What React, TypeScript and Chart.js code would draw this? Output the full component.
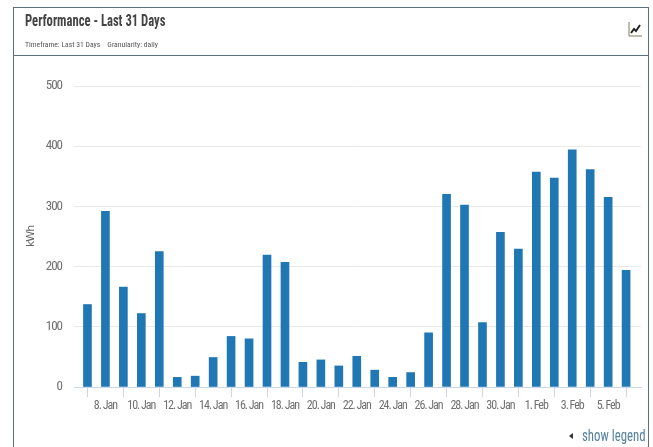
import React, { useEffect, useRef } from "react";
import { Chart, registerables } from "chart.js";

Chart.register(...registerables);

const dayIndex: number[] = Array.from({ length: 31 }, (_, i) => i);
const energyValues = [137, 292, 166, 122, 225, 16, 18, 49, 84, 80, 219, 207, 41, 45, 35, 51, 28, 16, 24, 90, 320, 302, 107, 257, 229, 357, 347, 394, 361, 315, 194];
const tickPositions = [1, 3, 5, 7, 9, 11, 13, 15, 17, 19, 21, 23, 25, 27, 29];
const tickLabels = ["8. Jan", "10. Jan", "12. Jan", "14. Jan", "16. Jan", "18. Jan", "20. Jan", "22. Jan", "24. Jan", "26. Jan", "28. Jan", "30. Jan", "1. Feb", "3. Feb", "5. Feb"];
const yTicks = [0, 100, 200, 300, 400, 500];

const FONT = "Roboto, sans-serif";
const CONDENSED = '"Roboto Condensed", Roboto, sans-serif';

const tightText = {
  id: "tightText",
  beforeDraw(chart: any) {
    chart.ctx.letterSpacing = "-1px";
  },
};

export default function App() {
  const ref = useRef<HTMLCanvasElement>(null);
  useEffect(() => {
    document.body.style.margin = "0";
    document.body.style.background = "#fff";
    const chart = new Chart(ref.current!, {
      type: "bar",
      plugins: [tightText],
      data: {
        datasets: [
          {
            label: "kWh",
            data: dayIndex.map((d, i) => ({ x: d, y: energyValues[i] })),
            backgroundColor: "#1f77b4",
            barThickness: 8,
          },
        ],
      },
      options: {
        animation: false,
        responsive: false,
        layout: { padding: { top: 86, right: 12, left: 0, bottom: 0 } },
        plugins: { legend: { display: false }, tooltip: { enabled: false } },
        scales: {
          x: {
            type: "linear",
            offset: false,
            min: -0.75,
            max: 30.83,
            afterBuildTicks: (axis: any) => {
              axis.ticks = tickPositions.map((value) => ({ value }));
            },
            afterFit: (axis: any) => {
              axis.height = 60;
            },
            ticks: {
              autoSkip: false,
              maxRotation: 0,
              minRotation: 0,
              padding: 2,
              color: "#707070",
              font: { family: CONDENSED, size: 12 },
              callback: (v: any) => tickLabels[tickPositions.indexOf(Number(v))] ?? "",
            },
            grid: { drawOnChartArea: false, drawTicks: true, tickLength: 10, tickColor: "#ccd6eb" },
            border: { display: true, color: "#ccd6eb" },
          },
          y: {
            type: "linear",
            min: 0,
            max: 500,
            afterBuildTicks: (axis: any) => {
              axis.ticks = yTicks.map((value) => ({ value }));
            },
            afterFit: (axis: any) => {
              axis.width = 74;
            },
            ticks: {
              padding: 12,
              color: "#707070",
              font: { family: CONDENSED, size: 13 },
            },
            grid: { color: "#e9e9e9", drawTicks: false, tickLength: 0 },
            border: { display: false },
            title: {
              display: true,
              text: "kWh",
              color: "#666666",
              font: { family: '"DejaVu Sans", sans-serif', size: 11 },
              padding: { top: 25, bottom: 0 },
            },
          },
        },
      },
    } as any);
    return () => chart.destroy();
  }, []);

  return (
    <div style={{ position: "relative", width: 653, height: 447, overflow: "hidden", background: "#fff" }}>
      <canvas ref={ref} width={653} height={447} style={{ position: "absolute", left: 0, top: 0 }} />
      <div style={{ position: "absolute", left: 13, top: 7, width: 636, height: 460, border: "1px solid #5d6f7a", boxSizing: "border-box" }} />
      <div style={{ position: "absolute", left: 13, top: 55, width: 636, height: 1, background: "#5d6f7a" }} />
      <div style={{ position: "absolute", left: 25, top: 11, fontFamily: FONT, fontStretch: "75%", fontWeight: 700, fontSize: 16, lineHeight: "20px", color: "#444", whiteSpace: "nowrap", transform: "scaleX(0.79)", transformOrigin: "left" }}>
        Performance - Last 31 Days
      </div>
      <div style={{ position: "absolute", left: 25, top: 39, fontFamily: FONT, fontStretch: "75%", fontSize: 8, lineHeight: "12px", color: "#555", whiteSpace: "pre", transform: "scaleX(0.96)", transformOrigin: "left" }}>
        {"Timeframe: Last 31 Days    Granularity: daily"}
      </div>
      <svg style={{ position: "absolute", left: 628, top: 21 }} width="15" height="16" viewBox="0 0 15 16">
        <path d="M1 1V15H14" fill="none" stroke="#7d7a5c" strokeWidth="1" />
        <path d="M3 12L6 8L8 10L12 4" fill="none" stroke="#222" strokeWidth="2" />
      </svg>
      <div style={{ position: "absolute", left: 569, top: 433, width: 0, height: 0, borderTop: "3px solid transparent", borderBottom: "3px solid transparent", borderRight: "4px solid #333" }} />
      <div style={{ position: "absolute", left: 582, top: 426, fontFamily: FONT, fontStretch: "75%", fontSize: 16, lineHeight: "20px", color: "#55809f", whiteSpace: "nowrap", transform: "scaleX(0.8)", transformOrigin: "left" }}>
        show legend
      </div>
    </div>
  );
}
